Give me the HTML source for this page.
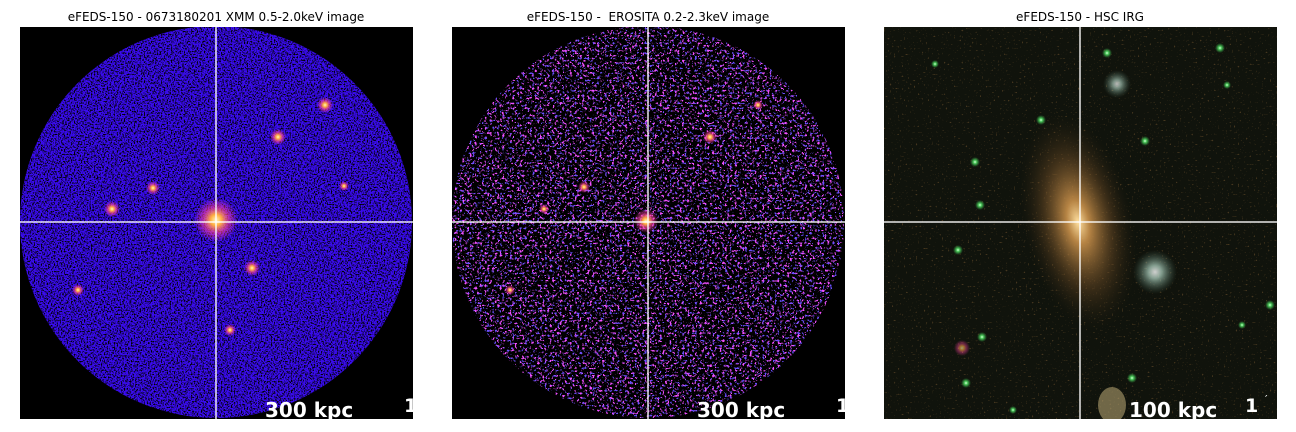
<!DOCTYPE html>
<html><head><meta charset="utf-8"><style>
html,body{margin:0;padding:0;background:#fff;width:1296px;height:432px;overflow:hidden}
svg{display:block}
text{font-family:"DejaVu Sans","Liberation Sans",sans-serif}
</style></head><body>
<svg width="1296" height="432" viewBox="0 0 1296 432">
<defs>
 <filter id="speckBlack" x="0" y="0" width="100%" height="100%">
  <feTurbulence type="fractalNoise" baseFrequency="0.7" numOctaves="2" seed="3" result="n"/>
  <feColorMatrix in="n" type="matrix" values="0 0 0 0 0  0 0 0 0 0  0 0 0 0 0  6 0 0 0 -2.9" result="a"/>
  <feFlood flood-color="#000"/>
  <feComposite in2="a" operator="in"/>
 </filter>
 <filter id="speckMag" x="0" y="0" width="100%" height="100%">
  <feTurbulence type="fractalNoise" baseFrequency="0.4" numOctaves="2" seed="7" result="n"/>
  <feColorMatrix in="n" type="matrix" values="0 0 0 0 0  0 0 0 0 0  0 0 0 0 0  14 0 0 0 -8.4" result="a"/>
  <feFlood flood-color="#f050ff"/>
  <feComposite in2="a" operator="in"/>
 </filter>
 <filter id="speckBlue" x="0" y="0" width="100%" height="100%">
  <feTurbulence type="fractalNoise" baseFrequency="0.4" numOctaves="2" seed="11" result="n"/>
  <feColorMatrix in="n" type="matrix" values="0 0 0 0 0  0 0 0 0 0  0 0 0 0 0  14 0 0 0 -8.8" result="a"/>
  <feFlood flood-color="#6a50ff"/>
  <feComposite in2="a" operator="in"/>
 </filter>
 <filter id="speckStar" x="0" y="0" width="100%" height="100%">
  <feTurbulence type="fractalNoise" baseFrequency="0.5" numOctaves="1" seed="5" result="n"/>
  <feColorMatrix in="n" type="matrix" values="0 0 0 0 0  0 0 0 0 0  0 0 0 0 0  10 0 0 0 -6.6" result="a"/>
  <feFlood flood-color="#7a5a30"/>
  <feComposite in2="a" operator="in"/>
 </filter>
 <clipPath id="c1"><circle cx="216" cy="222" r="196"/></clipPath>
 <clipPath id="c2"><circle cx="648" cy="222" r="196"/></clipPath>
 <clipPath id="p3"><rect x="884" y="27" width="393" height="392"/></clipPath>
 <radialGradient id="hot"><stop offset="0" stop-color="#fff8c0"/><stop offset="0.25" stop-color="#ffb040"/><stop offset="0.6" stop-color="#ff40a0" stop-opacity="0.6"/><stop offset="1" stop-color="#ff40a0" stop-opacity="0"/></radialGradient>
 <radialGradient id="glow"><stop offset="0" stop-color="#ffe0a0"/><stop offset="0.2" stop-color="#c8904a" stop-opacity="0.9"/><stop offset="0.6" stop-color="#6a4a25" stop-opacity="0.5"/><stop offset="1" stop-color="#2a2010" stop-opacity="0"/></radialGradient>
 <radialGradient id="gstar"><stop offset="0" stop-color="#e0ffe0"/><stop offset="0.3" stop-color="#50d060"/><stop offset="1" stop-color="#30a040" stop-opacity="0"/></radialGradient>
 <radialGradient id="wstar"><stop offset="0" stop-color="#ffffff"/><stop offset="0.3" stop-color="#a0c0b0"/><stop offset="1" stop-color="#406050" stop-opacity="0"/></radialGradient>
</defs>

<g>
 <text x="216" y="21" font-size="12" text-anchor="middle">eFEDS-150 - 0673180201 XMM 0.5-2.0keV image</text>
 <rect x="20" y="27" width="393" height="392" fill="#000"/>
 <g clip-path="url(#c1)">
  <rect x="20" y="27" width="393" height="392" fill="#3a0cf0"/>
  <rect x="20" y="27" width="393" height="392" filter="url(#speckBlack)"/>
  <g fill="url(#hot)">
   <circle cx="216" cy="220" r="22"/><circle cx="278" cy="137" r="8"/><circle cx="325" cy="105" r="8"/>
   <circle cx="112" cy="209" r="8"/><circle cx="153" cy="188" r="7"/><circle cx="252" cy="268" r="8"/>
   <circle cx="78" cy="290" r="6"/><circle cx="230" cy="330" r="6"/><circle cx="344" cy="186" r="5"/>
  </g>
 </g>
 <line x1="216" y1="27" x2="216" y2="419" stroke="#fff" stroke-width="1.5" opacity="0.9"/>
 <line x1="20" y1="222" x2="413" y2="222" stroke="#fff" stroke-width="1.5" opacity="0.9"/>
 <text x="265" y="417" font-size="20" font-weight="bold" fill="#fff">300 kpc</text>
 <text x="404" y="412" font-size="19" font-weight="bold" fill="#fff">1</text>
</g>

<g>
 <text x="648" y="21" font-size="12" text-anchor="middle" xml:space="preserve">eFEDS-150 -  EROSITA 0.2-2.3keV image</text>
 <rect x="452" y="27" width="393" height="392" fill="#000"/>
 <g clip-path="url(#c2)">
  <rect x="452" y="27" width="393" height="392" filter="url(#speckMag)"/>
  <rect x="452" y="27" width="393" height="392" filter="url(#speckBlue)"/>
  <g fill="url(#hot)">
   <circle cx="646" cy="221" r="12"/><circle cx="710" cy="137" r="7"/><circle cx="584" cy="187" r="6"/>
   <circle cx="544" cy="209" r="5"/><circle cx="758" cy="105" r="5"/><circle cx="510" cy="290" r="5"/>
  </g>
 </g>
 <line x1="648" y1="27" x2="648" y2="419" stroke="#fff" stroke-width="1.5" opacity="0.9"/>
 <line x1="452" y1="222" x2="845" y2="222" stroke="#fff" stroke-width="1.5" opacity="0.9"/>
 <text x="697" y="417" font-size="20" font-weight="bold" fill="#fff">300 kpc</text>
 <text x="836" y="412" font-size="19" font-weight="bold" fill="#fff">1</text>
</g>

<g>
 <text x="1080" y="21" font-size="12" text-anchor="middle">eFEDS-150 - HSC IRG</text>
 <g clip-path="url(#p3)">
  <rect x="884" y="27" width="393" height="392" fill="#10130c"/>
  <rect x="884" y="27" width="393" height="392" filter="url(#speckStar)" opacity="0.5"/>
  <ellipse cx="1078" cy="222" rx="55" ry="110" fill="url(#glow)" transform="rotate(-12 1078 222)"/>
  <circle cx="1155" cy="272" r="22" fill="url(#wstar)" opacity="0.8"/>
  <circle cx="1117" cy="84" r="14" fill="url(#wstar)" opacity="0.7"/>
  <ellipse cx="1112" cy="405" rx="14" ry="18" fill="#b0a070" opacity="0.6"/>
  <g fill="url(#gstar)">
   <circle cx="1107" cy="53" r="5"/><circle cx="1220" cy="48" r="5"/><circle cx="975" cy="162" r="5"/>
   <circle cx="980" cy="205" r="5"/><circle cx="1041" cy="120" r="5"/><circle cx="1145" cy="141" r="5"/>
   <circle cx="1270" cy="305" r="5"/><circle cx="1132" cy="378" r="5"/><circle cx="966" cy="383" r="5"/>
   <circle cx="982" cy="337" r="5"/><circle cx="935" cy="64" r="4"/><circle cx="1242" cy="325" r="4"/>
   <circle cx="958" cy="250" r="5"/><circle cx="1227" cy="85" r="4"/><circle cx="1013" cy="410" r="4"/>
  </g>
  <circle cx="962" cy="348" r="8" fill="url(#hot)" opacity="0.6"/>
 </g>
 <line x1="1080" y1="27" x2="1080" y2="419" stroke="#fff" stroke-width="1.5" opacity="0.9"/>
 <line x1="884" y1="222" x2="1277" y2="222" stroke="#fff" stroke-width="1.5" opacity="0.9"/>
 <text x="1129" y="417" font-size="20" font-weight="bold" fill="#fff">100 kpc</text>
 <text x="1245" y="412" font-size="19" font-weight="bold" fill="#fff">1</text>
 <text x="1265" y="403" font-size="11" fill="#fff">′</text>
</g>
</svg>
</body></html>
